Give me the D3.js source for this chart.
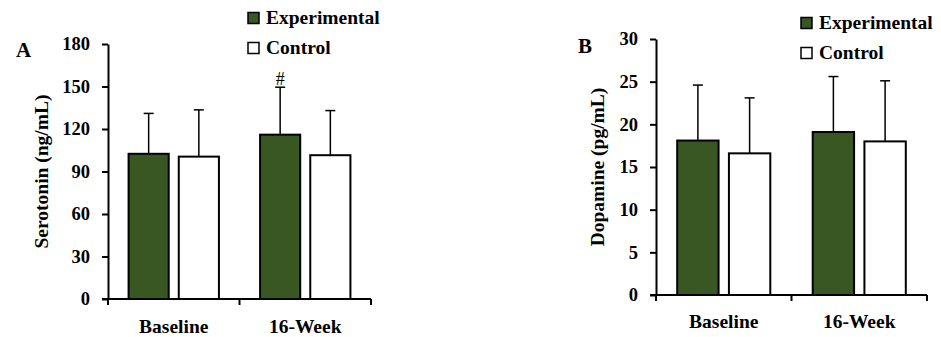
<!DOCTYPE html>
<meta charset="utf-8">
<style>
  body { margin: 0; background: #fff; }
  svg { display: block; }
  text { font-family: 'Liberation Serif', 'Times New Roman', serif; font-weight: bold; fill: #000; }
  .axis path, .axis line { stroke: #000; stroke-width: 2px; }
  .axis text { font-size: 18.5px; font-family: 'Liberation Serif', serif; font-weight: bold; }
</style>
<script src="https://d3js.org/d3.v7.min.js"></script>
<svg width="941" height="337"></svg>
<script>
// data
var groups = ["Baseline", "16-Week"];
var series = ["Experimental", "Control"];

var serotoninMean = [[102.5, 100.5], [116, 101.5]];
var serotoninErr  = [[131, 133.5], [149.5, 133]];
var serotoninTicks = [0, 30, 60, 90, 120, 150, 180];

var dopamineMean = [[18.1, 16.6], [19.1, 18.0]];
var dopamineErr  = [[24.6, 23.1], [25.6, 25.1]];
var dopamineTicks = [0, 5, 10, 15, 20, 25, 30];

var colors = { "Experimental": "#385723", "Control": "#ffffff" };

var svg = d3.select("svg");

function drawPanel(p) {
  var g = svg.append("g");

  var y = d3.scaleLinear().domain([0, p.ymax]).range([p.bottom, p.top]);
  var x0 = d3.scaleBand().domain(groups).range([p.left, p.right]);
  var x1 = d3.scaleBand().domain(series).range([0, x0.bandwidth()])
    .paddingInner(0.2).paddingOuter(0.41);

  // bars
  groups.forEach(function(grp, i) {
    series.forEach(function(s, j) {
      var cx = x0(grp) + x1(s) + x1.bandwidth() / 2;
      // error bar
      g.append("line")
        .attr("x1", cx).attr("x2", cx)
        .attr("y1", y(p.mean[i][j])).attr("y2", y(p.err[i][j]))
        .attr("stroke", "#000").attr("stroke-width", 1.5);
      g.append("line")
        .attr("x1", cx - 5).attr("x2", cx + 5)
        .attr("y1", y(p.err[i][j])).attr("y2", y(p.err[i][j]))
        .attr("stroke", "#000").attr("stroke-width", 1.5);
      g.append("rect")
        .attr("x", x0(grp) + x1(s))
        .attr("y", y(p.mean[i][j]))
        .attr("width", x1.bandwidth())
        .attr("height", y(0) - y(p.mean[i][j]))
        .attr("fill", colors[s])
        .attr("stroke", "#000").attr("stroke-width", 2);
      if (p.marks && p.marks[i][j]) {
        g.append("text")
          .attr("x", cx).attr("y", y(p.err[i][j]) - 2)
          .attr("text-anchor", "middle")
          .style("font-size", "18px").style("font-weight", "normal")
          .text(p.marks[i][j]);
      }
    });
  });

  // y axis
  g.append("g").attr("class", "axis")
    .attr("transform", "translate(" + p.left + ",0)")
    .call(d3.axisLeft(y).tickValues(p.ticks).tickSize(6).tickSizeOuter(0).tickPadding(12));

  // x axis: ticks at band edges
  var xa = g.append("g").attr("class", "axis");
  xa.append("line").attr("x1", p.left - 6).attr("x2", p.right)
    .attr("y1", y(0)).attr("y2", y(0));
  [p.left, x0("16-Week"), p.right].forEach(function(t) {
    xa.append("line").attr("x1", t).attr("x2", t)
      .attr("y1", y(0)).attr("y2", y(0) + 6);
  });
  groups.forEach(function(grp) {
    xa.append("text")
      .attr("x", x0(grp) + x0.bandwidth() / 2)
      .attr("y", p.xlabelY)
      .attr("text-anchor", "middle")
      .style("font-size", "19.5px")
      .text(grp);
  });

  // y label
  g.append("text")
    .attr("transform", "translate(" + p.ylabelX + "," + ((p.top + p.bottom) / 2 + p.ylabelShift) + ") rotate(-90)")
    .attr("text-anchor", "middle")
    .style("font-size", "19.5px")
    .text(p.ylabel);

  // panel letter
  g.append("text")
    .attr("x", p.letterX).attr("y", p.letterY)
    .style("font-size", "21px")
    .text(p.letter);

  // legend
  series.forEach(function(s, j) {
    var ly = p.legendY + j * 30;
    g.append("rect")
      .attr("x", p.legendX).attr("y", ly - 11.5)
      .attr("width", 11).attr("height", 11)
      .attr("fill", colors[s]).attr("stroke", "#000").attr("stroke-width", 1.5);
    g.append("text")
      .attr("x", p.legendX + 18).attr("y", ly)
      .style("font-size", "19.5px")
      .text(s);
  });
}

drawPanel({
  ymax: 180, ticks: serotoninTicks, mean: serotoninMean, err: serotoninErr,
  marks: [["", ""], ["#", ""]],
  left: 108, right: 371, top: 44, bottom: 299,
  xlabelY: 333, ylabel: "Serotonin (ng/mL)", ylabelX: 48, ylabelShift: 0,
  letter: "A", letterX: 16, letterY: 57,
  legendX: 248, legendY: 24
});

drawPanel({
  ymax: 30, ticks: dopamineTicks, mean: dopamineMean, err: dopamineErr,
  left: 656, right: 927, top: 39, bottom: 295,
  xlabelY: 328, ylabel: "Dopamine (pg/mL)", ylabelX: 604, ylabelShift: 0,
  letter: "B", letterX: 578, letterY: 53,
  legendX: 801, legendY: 29
});
</script>
